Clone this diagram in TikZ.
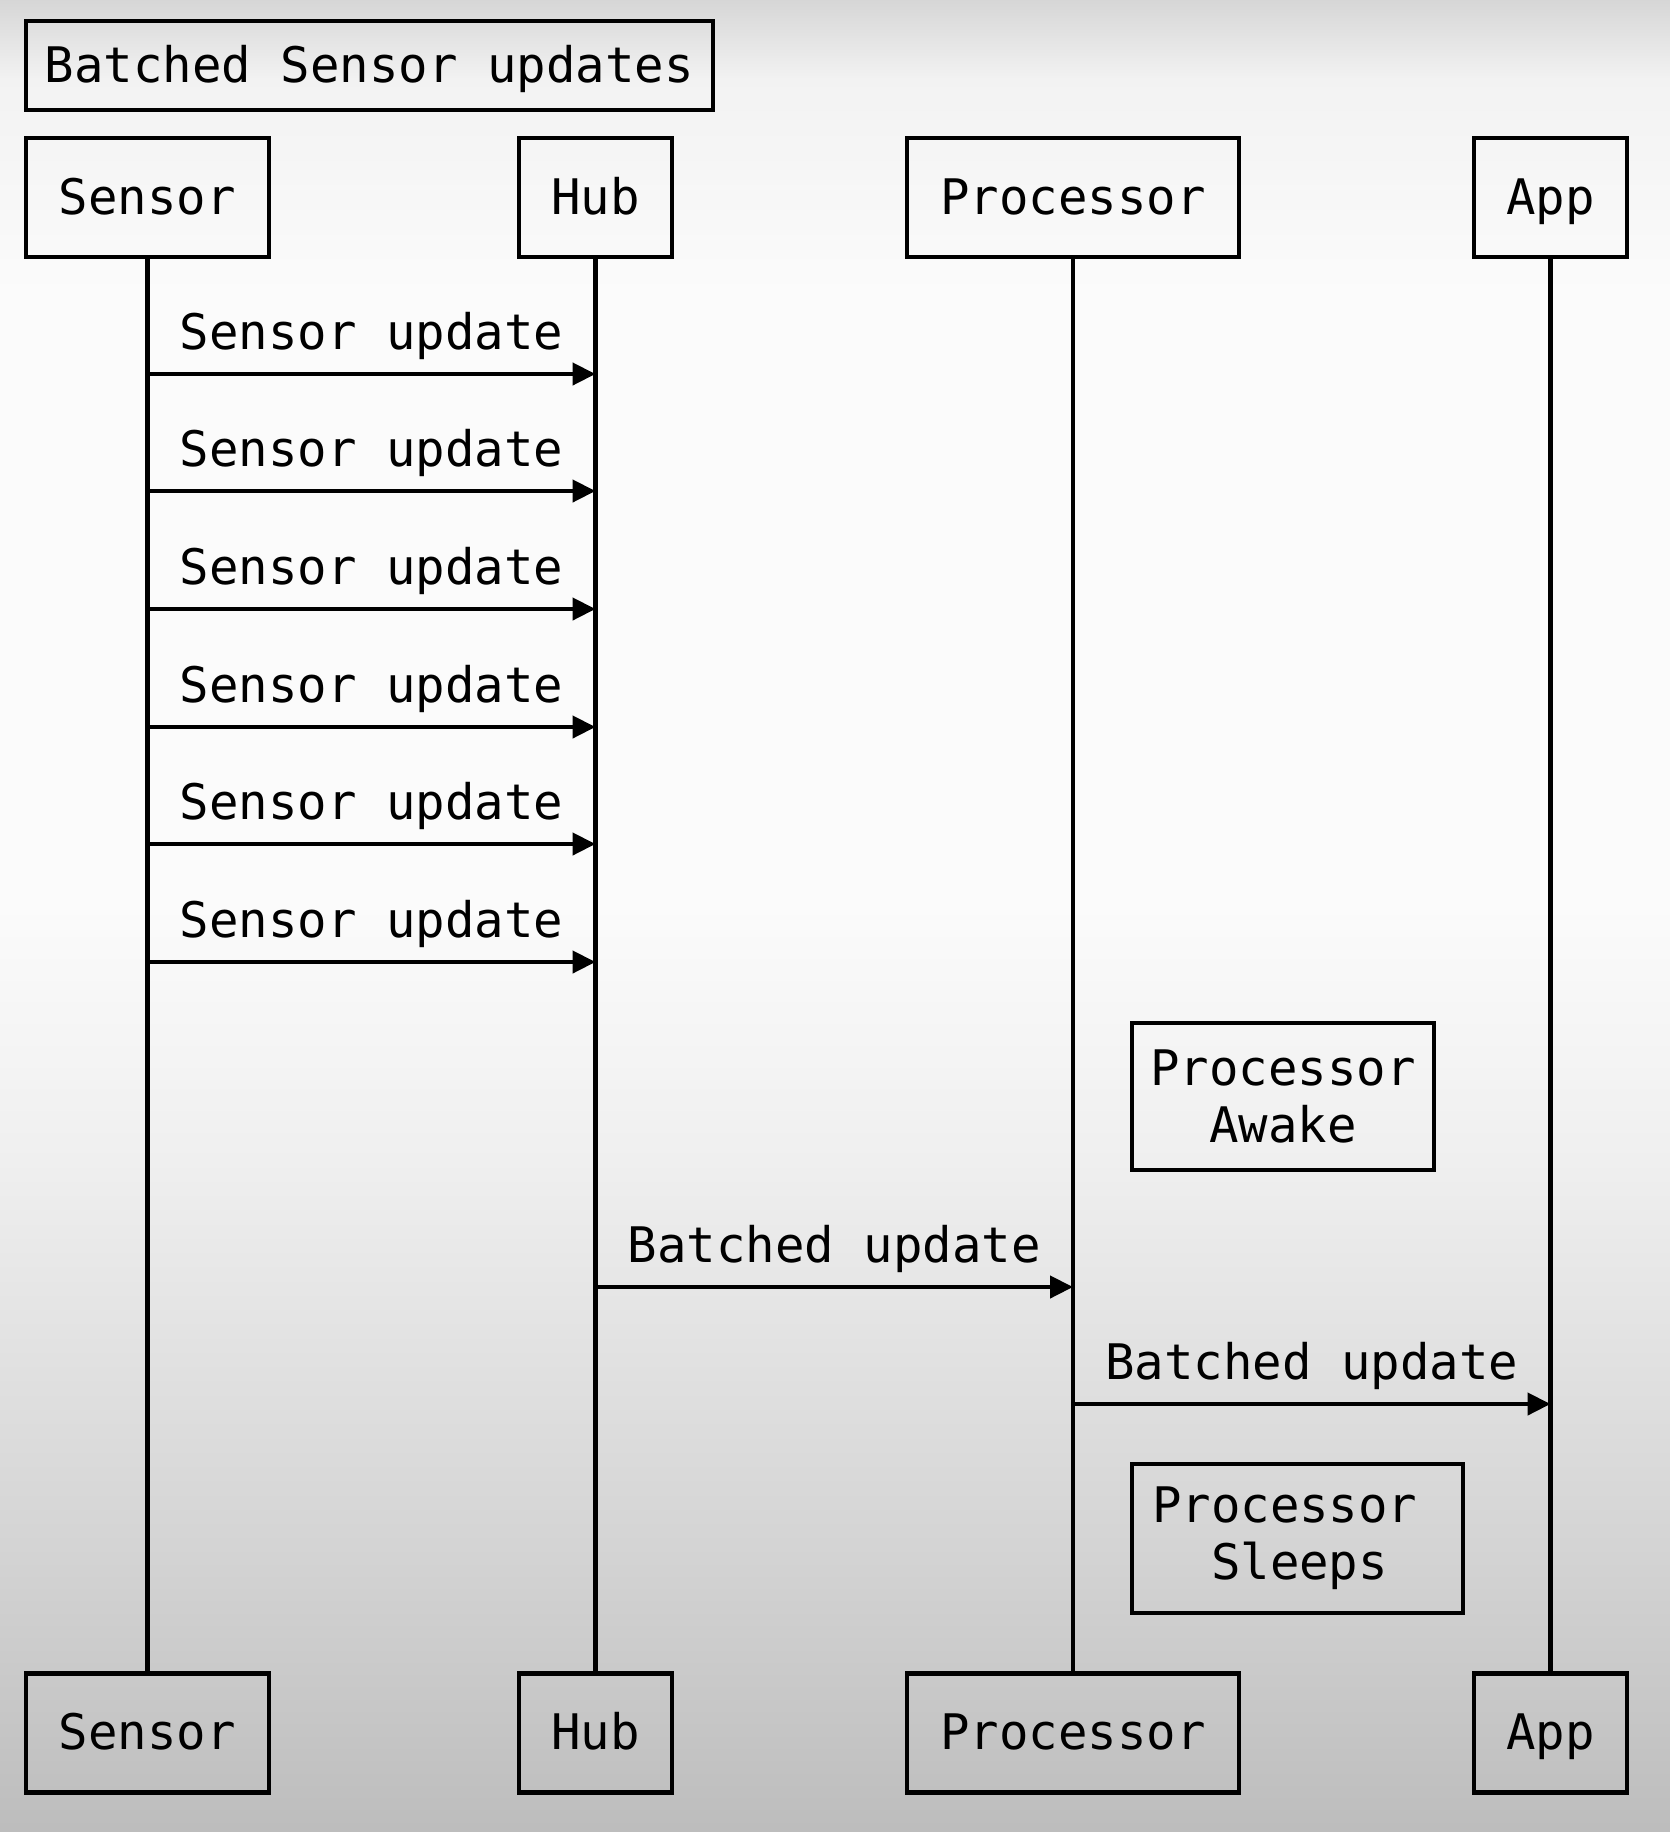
\documentclass[tikz,border=0pt]{standalone}
\usepackage{fontspec}
\setmonofont{DejaVu Sans Mono}
\usetikzlibrary{arrows.meta, positioning}

\definecolor{bgtop}{gray}{0.84}
\definecolor{bgtopb}{gray}{0.95}
\definecolor{bgmid}{gray}{0.985}
\definecolor{bglow}{gray}{0.94}
\definecolor{bgdeep}{gray}{0.83}
\definecolor{bgbot}{gray}{0.74}

\begin{document}
\begin{tikzpicture}[
		x=0.5pt, y=-0.5pt,
		font=\ttfamily\fontsize{24.5}{28.5}\selectfont,
		actor/.style={draw, line width=2.2pt, rectangle, minimum height=59.5pt, inner sep=0pt, text height=17pt, text depth=0pt},
		note/.style={draw, line width=2.2pt, rectangle, align=center, inner sep=0pt},
		life/.style={line width=2.2pt},
		msg/.style={-{Triangle[length=11.5pt, width=11pt]}, line width=2.2pt}
		]
		
		% Background
		\shade[top color=bgtop, bottom color=bgtopb] (0,0) rectangle (1670,80);
		\shade[top color=bgtopb, bottom color=bgmid] (0,80) rectangle (1670,300);
		\fill[bgmid] (0,300) rectangle (1670,900);
		\shade[top color=bgmid, bottom color=bglow] (0,900) rectangle (1670,1150);
		\shade[top color=bglow, bottom color=bgdeep] (0,1150) rectangle (1670,1550);
		\shade[top color=bgdeep, bottom color=bgbot] (0,1550) rectangle (1670,1832);
		\useasboundingbox (0,0) rectangle (1670,1832);
		
		% Title
		\node (title) [actor, minimum width=343.5pt, minimum height=44.5pt] at (369.5,65.5) {Batched Sensor updates};
		
		% Participants
		\node (sensorT) [actor, minimum width=121.5pt] at (147.5,197.5) {Sensor};
		\node (hubT) [actor, minimum width=76.5pt] at (595.5,197.5) {Hub};
		\node (procT) [actor, minimum width=166pt] at (1073,197.5) {Processor};
		\node (appT) [actor, minimum width=76.5pt] at (1550.5,197.5) {App};
		
		\node (sensorB) [actor, minimum width=121.5pt, below=706pt of sensorT] {Sensor};
		\node (hubB) [actor, minimum width=76.5pt, below=706pt of hubT] {Hub};
		\node (procB) [actor, minimum width=166pt, below=706pt of procT] {Processor};
		\node (appB) [actor, minimum width=76.5pt, below=706pt of appT] {App};
		
		% Lifelines
		\draw[life] (sensorT) -- (sensorB);
		\draw[life] (hubT) -- (hubB);
		\draw[life] (procT) -- (procB);
		\draw[life] (appT) -- (appB);
		
		% Sensor updates
		\foreach \y in {374,491,609,727,844,962}
			\draw[msg] (sensorT |- 0,\y) -- (hubT |- 0,\y) node[midway, above=2.5pt] {Sensor update};
		
		% Processor state
		\node (awake) [note, minimum width=151pt, minimum height=73.5pt] at (1283,1096.5) {Processor\\Awake};
		\node (sleeps) [note, minimum width=165.5pt, minimum height=74.5pt, align=left, text width=145.5pt, inner xsep=10pt] at (1297.5,1538.5) {Processor\\\hspace*{1.204em}Sleeps};
		
		% Batched updates
		\draw[msg] (hubT |- 0,1287) -- (procT |- 0,1287) node[midway, above=2.5pt] {Batched update};
		\draw[msg] (procT |- 0,1404) -- (appT |- 0,1404) node[midway, above=2.5pt] {Batched update};
		
	\end{tikzpicture}
\end{document}
